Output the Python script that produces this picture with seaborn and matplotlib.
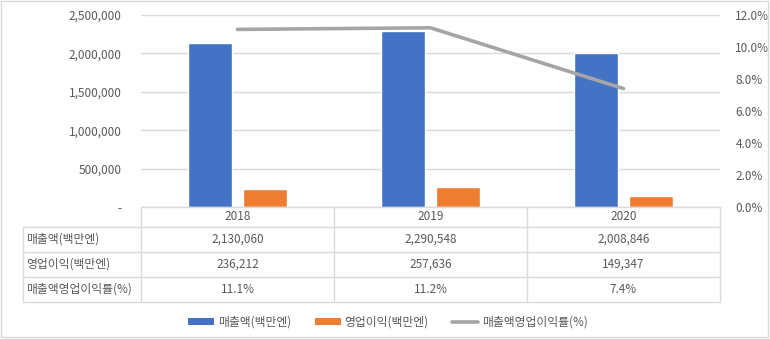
import matplotlib
matplotlib.use("Agg")
import matplotlib.pyplot as plt
from matplotlib.ticker import FuncFormatter, MultipleLocator
from matplotlib.patches import Patch, Rectangle
from matplotlib.lines import Line2D
import seaborn as sns
import pandas as pd

# Data
years = ["2018", "2019", "2020"]
sales = [2130060, 2290548, 2008846]          # 매출액(백만엔)
op_income = [236212, 257636, 149347]        # 영업이익(백만엔)
op_margin = [11.1, 11.2, 7.4]               # 매출액영업이익률(%)
series_names = ["매출액(백만엔)", "영업이익(백만엔)", "매출액영업이익률(%)"]

BLUE = "#4472C4"
ORANGE = "#ED7D31"
GRAY = "#A5A5A5"
TEXT = "#595959"
GRID = "#D9D9D9"

sns.set_theme(style="white")
plt.rcParams["font.family"] = ["Noto Sans CJK KR", "DejaVu Sans"]
FS = 8.5

W, H = 770, 339
fig = plt.figure(figsize=(W / 100, H / 100), dpi=100)

def fx(px):
    return px / W

def fy(py):
    return 1 - py / H

# plot area in pixel coordinates
L, R, T, B = 141, 720, 15, 207
ax = fig.add_axes([fx(L), fy(B), fx(R - L), (B - T) / H])

df = pd.DataFrame({
    "year": years * 2,
    "value": sales + op_income,
    "series": [series_names[0]] * 3 + [series_names[1]] * 3,
})
sns.barplot(data=df, x="year", y="value", hue="series",
            palette=[BLUE, ORANGE], width=0.57, gap=0.2,
            legend=False, ax=ax, saturation=1)

ax.set_xlim(-0.5, 2.5)
ax.set_ylim(0, 2500000)
ax.yaxis.set_major_locator(MultipleLocator(500000))
ax.yaxis.set_major_formatter(FuncFormatter(lambda v, p: "-" if v == 0 else f"{v:,.0f}"))
ax.grid(axis="y", color=GRID, linewidth=1)
ax.set_axisbelow(True)
ax.set_xticks([])
ax.set_xlabel("")
ax.set_ylabel("")
ax.tick_params(axis="y", length=0, pad=14, labelsize=FS, labelcolor=TEXT)
for s in ax.spines.values():
    s.set_visible(False)

ax2 = ax.twinx()
sns.lineplot(x=[0, 1, 2], y=op_margin, ax=ax2, color=GRAY, linewidth=2.6)
ax2.set_ylim(0, 12)
ax2.yaxis.set_major_locator(MultipleLocator(2))
ax2.yaxis.set_major_formatter(FuncFormatter(lambda v, p: f"{v:.1f}%"))
ax2.tick_params(axis="y", length=0, pad=11, labelsize=FS, labelcolor=TEXT)
ax2.set_ylabel("")
for s in ax2.spines.values():
    s.set_visible(False)

# Data table under the chart
col_edges = [141, 334, 527, 720]
row_edges = [207, 227, 252, 277, 302]
label_left = 23

def hline(y, x0, x1):
    fig.add_artist(Line2D([fx(x0), fx(x1)], [fy(y), fy(y)], color=GRID, linewidth=1))

def vline(x, y0, y1):
    fig.add_artist(Line2D([fx(x), fx(x)], [fy(y0), fy(y1)], color=GRID, linewidth=1))

hline(row_edges[0], col_edges[0], col_edges[-1])
for y in row_edges[1:]:
    hline(y, label_left, col_edges[-1])
for x in col_edges:
    vline(x, row_edges[0], row_edges[-1])
vline(label_left, row_edges[1], row_edges[-1])

def cell_y(i):
    return fy((row_edges[i] + row_edges[i + 1]) / 2)

for j, yr in enumerate(years):
    cx = fx((col_edges[j] + col_edges[j + 1]) / 2)
    fig.text(cx, cell_y(0), yr, ha="center", va="center", fontsize=FS, color=TEXT)
    fig.text(cx, cell_y(1), f"{sales[j]:,}", ha="center", va="center", fontsize=FS, color=TEXT)
    fig.text(cx, cell_y(2), f"{op_income[j]:,}", ha="center", va="center", fontsize=FS, color=TEXT)
    fig.text(cx, cell_y(3), f"{op_margin[j]:.1f}%", ha="center", va="center", fontsize=FS, color=TEXT)

for i, name in enumerate(series_names):
    fig.text(fx(label_left + 3), cell_y(i + 1), name, ha="left", va="center",
             fontsize=FS, color=TEXT)

# Legend
handles = [
    Patch(facecolor=BLUE, edgecolor="none"),
    Patch(facecolor=ORANGE, edgecolor="none"),
    Line2D([0], [0], color=GRAY, linewidth=2.6),
]
fig.legend(handles, series_names, loc="center", bbox_to_anchor=(fx(388), fy(322)),
           ncol=3, frameon=False, fontsize=FS, labelcolor=TEXT,
           handlelength=2.2, handleheight=0.55, handletextpad=0.35, columnspacing=2.0)

# Outer border
fig.add_artist(Rectangle((fx(1), fy(337)), fx(767), (336) / H, fill=False,
                         edgecolor=GRID, linewidth=1, transform=fig.transFigure))

fig.savefig("out.png", dpi=100, facecolor="white")
